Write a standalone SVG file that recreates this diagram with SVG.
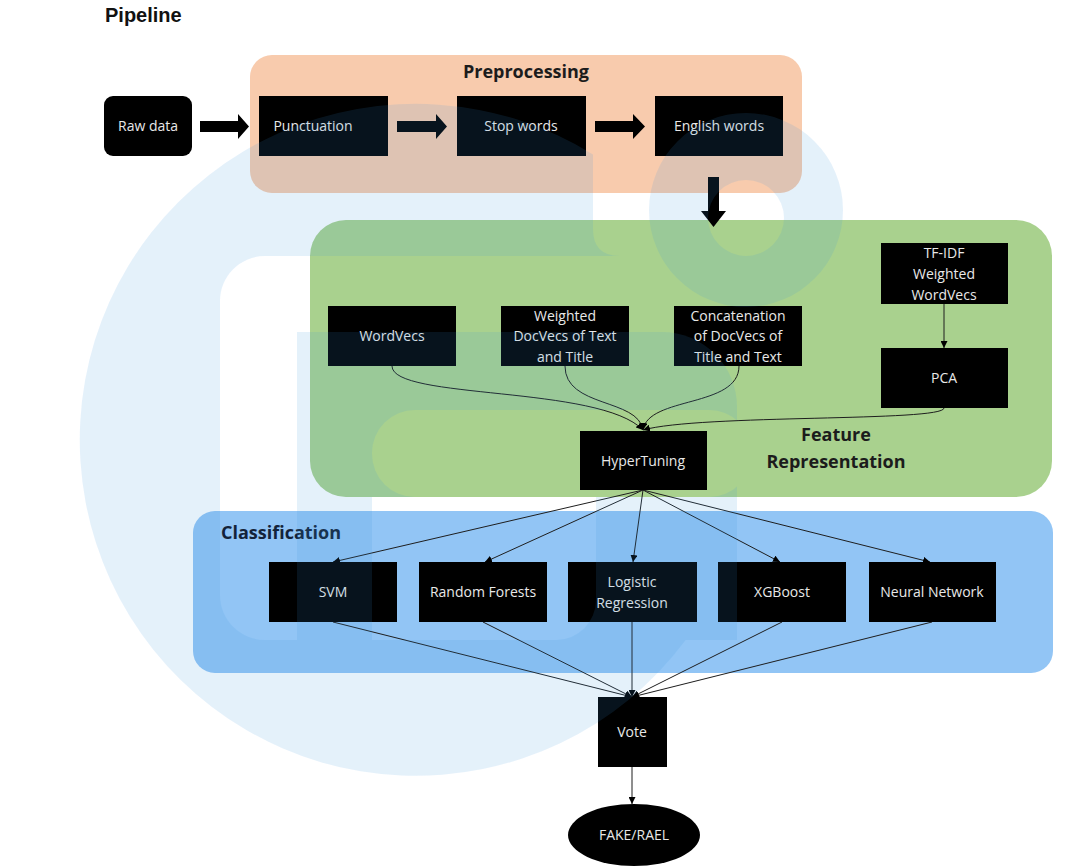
<svg xmlns="http://www.w3.org/2000/svg" width="1080" height="868" viewBox="0 0 1080 868">
<defs>
<style>
.bg{fill:#ffffff}
.grp-pre{fill:#f8cbad}
.grp-feat{fill:#a9d18e}
.grp-cls{fill:#92c5f5}
.node{fill:#000000}
.nt{font-family:"Open Sans","Noto Sans",sans-serif;font-size:14px;fill:#e8e8e8;text-anchor:middle}
.gt{font-family:"Open Sans","Noto Sans",sans-serif;font-size:18px;font-weight:bold;fill:#1c1c1c;text-anchor:middle}
.conn{fill:none;stroke:#1e1e1e;stroke-width:1}
.block{fill:#000000}
.wm-b{fill:#3a96de}
</style>
<marker id="ah" viewBox="0 0 8 8" refX="8" refY="4" markerWidth="7" markerHeight="7" markerUnits="userSpaceOnUse" orient="auto">
<path d="M0,0 L8,4 L0,8 z" fill="#000"/>
</marker>
<mask id="m1" maskUnits="userSpaceOnUse" x="0" y="0" width="1080" height="868">
<rect x="0" y="0" width="1080" height="868" fill="#fff"/>
<rect x="220" y="256" width="545" height="384" rx="45" fill="#000"/>
</mask>
<mask id="m2" maskUnits="userSpaceOnUse" x="0" y="0" width="1080" height="868">
<rect x="0" y="0" width="1080" height="868" fill="#fff"/>
<rect x="372" y="410" width="380" height="87" rx="43" fill="#000"/>
<path d="M372,497 H596 V600 A40,40 0 0 1 556,640 H372 Z" fill="#000"/>
</mask>
</defs>
<rect class="bg" x="0" y="0" width="1080" height="868"/>
<text x="105" y="22" font-family="Liberation Sans, Arial, sans-serif" font-size="20" font-weight="bold" fill="#111">Pipeline</text>

<g id="group-preprocessing">
<rect class="grp-pre" x="250" y="55" width="552" height="138" rx="22"/>
<text class="gt" x="526" y="78">Preprocessing</text>
</g>
<g id="group-feature">
<rect class="grp-feat" x="310" y="220" width="742" height="277" rx="36"/>
<text class="gt" x="836" y="441">Feature</text>
<text class="gt" x="836" y="468">Representation</text>
</g>
<g id="group-classification">
<rect class="grp-cls" x="193" y="511" width="860" height="162" rx="22"/>
<text class="gt" x="281" y="539" style="fill:#13233a">Classification</text>
</g>

<g id="connectors">
<polygon class="block" points="200,121 238,121 238,114 249,126.5 238,139 238,132 200,132"/>
<polygon class="block" points="397,121 436,121 436,114 447,126.5 436,139 436,132 397,132"/>
<polygon class="block" points="595,121 633,121 633,114 645,126.5 633,139 633,132 595,132"/>
<polygon class="block" points="708,177 719,177 719,211 726,211 713.5,227 701,211 708,211"/>
<line class="conn" x1="944" y1="304" x2="944" y2="348" marker-end="url(#ah)"/>
<path class="conn" d="M392,366 C392,400 600,385 643,430" marker-end="url(#ah)"/>
<path class="conn" d="M565,366 C565,408 638,398 643,430" marker-end="url(#ah)"/>
<path class="conn" d="M739,366 C739,408 648,396 643,430" marker-end="url(#ah)"/>
<path class="conn" d="M944,408 C944,422 700,414 643,430" marker-end="url(#ah)"/>
<line class="conn" x1="643" y1="490" x2="333" y2="562" marker-end="url(#ah)"/>
<line class="conn" x1="643" y1="490" x2="485" y2="562" marker-end="url(#ah)"/>
<line class="conn" x1="643" y1="490" x2="633" y2="562" marker-end="url(#ah)"/>
<line class="conn" x1="643" y1="490" x2="780" y2="562" marker-end="url(#ah)"/>
<line class="conn" x1="643" y1="490" x2="930" y2="562" marker-end="url(#ah)"/>
<line class="conn" x1="333" y1="622" x2="632" y2="697" marker-end="url(#ah)"/>
<line class="conn" x1="483" y1="622" x2="632" y2="697" marker-end="url(#ah)"/>
<line class="conn" x1="632" y1="622" x2="632" y2="697" marker-end="url(#ah)"/>
<line class="conn" x1="782" y1="622" x2="632" y2="697" marker-end="url(#ah)"/>
<line class="conn" x1="932" y1="622" x2="632" y2="697" marker-end="url(#ah)"/>
<line class="conn" x1="632" y1="767" x2="632" y2="804" marker-end="url(#ah)"/>
</g>

<g id="node-raw"><rect class="node" x="104" y="96" width="88" height="60" rx="9"/><text class="nt" x="148" y="131">Raw data</text></g>
<g id="node-punct"><rect class="node" x="259" y="96" width="129" height="60"/><text class="nt" x="313" y="131">Punctuation</text></g>
<g id="node-stop"><rect class="node" x="457" y="96" width="129" height="60"/><text class="nt" x="521" y="131">Stop words</text></g>
<g id="node-english"><rect class="node" x="655" y="96" width="128" height="60"/><text class="nt" x="719" y="131">English words</text></g>

<g id="node-wordvecs"><rect class="node" x="328" y="306" width="128" height="60"/><text class="nt" x="392" y="341">WordVecs</text></g>
<g id="node-weighted"><rect class="node" x="501" y="306" width="128" height="60"/>
<text class="nt" x="565" y="321">Weighted</text><text class="nt" x="565" y="341">DocVecs of Text</text><text class="nt" x="565" y="362">and Title</text></g>
<g id="node-concat"><rect class="node" x="674" y="306" width="128" height="60"/>
<text class="nt" x="738" y="321">Concatenation</text><text class="nt" x="738" y="341">of DocVecs of</text><text class="nt" x="738" y="362">Title and Text</text></g>
<g id="node-tfidf"><rect class="node" x="881" y="243" width="127" height="61"/>
<text class="nt" x="944" y="258">TF-IDF</text><text class="nt" x="944" y="279">Weighted</text><text class="nt" x="944" y="300">WordVecs</text></g>
<g id="node-pca"><rect class="node" x="881" y="348" width="127" height="60"/><text class="nt" x="944" y="383">PCA</text></g>
<g id="node-hyper"><rect class="node" x="580" y="431" width="127" height="59"/><text class="nt" x="643" y="466">HyperTuning</text></g>

<g id="node-svm"><rect class="node" x="269" y="562" width="128" height="60"/><text class="nt" x="333" y="597">SVM</text></g>
<g id="node-rf"><rect class="node" x="419" y="562" width="128" height="60"/><text class="nt" x="483" y="597">Random Forests</text></g>
<g id="node-lr"><rect class="node" x="568" y="562" width="129" height="60"/><text class="nt" x="632" y="587">Logistic</text><text class="nt" x="632" y="608">Regression</text></g>
<g id="node-xgb"><rect class="node" x="718" y="562" width="128" height="60"/><text class="nt" x="782" y="597">XGBoost</text></g>
<g id="node-nn"><rect class="node" x="869" y="562" width="127" height="60"/><text class="nt" x="932" y="597">Neural Network</text></g>

<g id="node-vote"><rect class="node" x="598" y="697" width="69" height="70"/><text class="nt" x="632" y="737">Vote</text></g>
<g id="node-result"><ellipse class="node" cx="634" cy="835" rx="66" ry="31"/><text class="nt" x="634" y="840">FAKE/RAEL</text></g>

<g id="watermark" opacity="0.13">
<g mask="url(#m1)">
<path class="wm-b" d="M593,154.4 A336,336 0 1 0 697,256 L620,256 Q593,256 593,229 Z"/>
</g>
<path class="wm-b" fill-rule="evenodd" d="M649,210 A97,97 0 1 0 843,210 A97,97 0 1 0 649,210 Z M708,218 A38,38 0 1 0 784,218 A38,38 0 1 0 708,218 Z"/>
<path class="wm-b" mask="url(#m2)" d="M297,640 V332 H662 A75,75 0 0 1 737,407 V640 Z"/>
</g>
</svg>
